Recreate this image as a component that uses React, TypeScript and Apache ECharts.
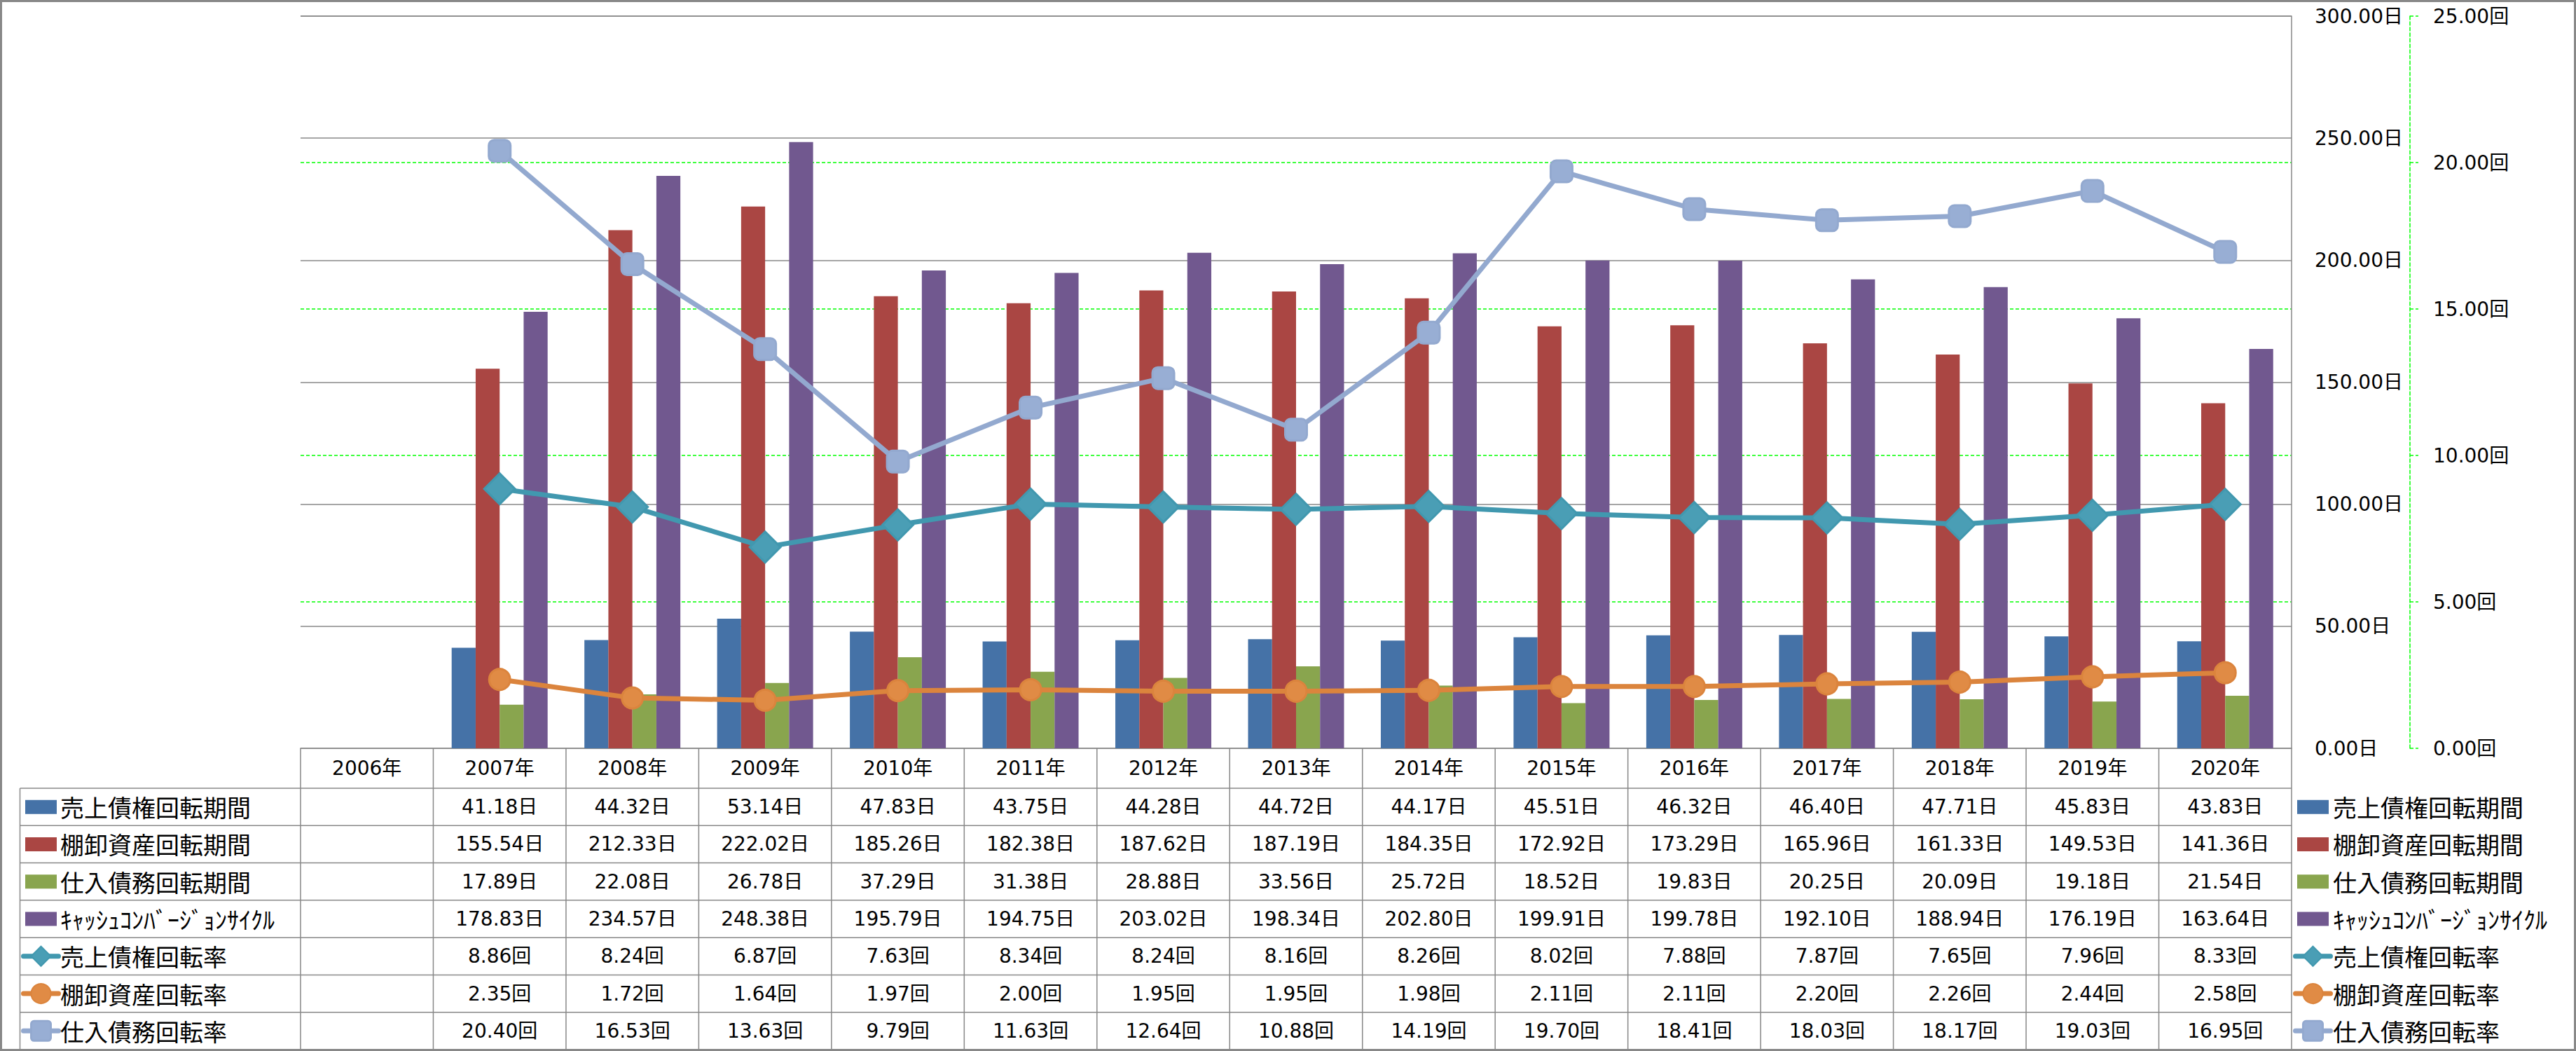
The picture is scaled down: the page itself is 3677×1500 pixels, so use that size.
import React, { useEffect, useRef } from "react";
import * as echarts from "echarts";

// ---------- data ----------
const years = [
  "2006年", "2007年", "2008年", "2009年", "2010年", "2011年", "2012年", "2013年",
  "2014年", "2015年", "2016年", "2017年", "2018年", "2019年", "2020年",
];
const receivableDays = [null, 41.18, 44.32, 53.14, 47.83, 43.75, 44.28, 44.72, 44.17, 45.51, 46.32, 46.40, 47.71, 45.83, 43.83];
const inventoryDays = [null, 155.54, 212.33, 222.02, 185.26, 182.38, 187.62, 187.19, 184.35, 172.92, 173.29, 165.96, 161.33, 149.53, 141.36];
const payableDays = [null, 17.89, 22.08, 26.78, 37.29, 31.38, 28.88, 33.56, 25.72, 18.52, 19.83, 20.25, 20.09, 19.18, 21.54];
const cashConversionCycle = [null, 178.83, 234.57, 248.38, 195.79, 194.75, 203.02, 198.34, 202.80, 199.91, 199.78, 192.10, 188.94, 176.19, 163.64];
const receivableTurnover = [null, 8.86, 8.24, 6.87, 7.63, 8.34, 8.24, 8.16, 8.26, 8.02, 7.88, 7.87, 7.65, 7.96, 8.33];
const inventoryTurnover = [null, 2.35, 1.72, 1.64, 1.97, 2.00, 1.95, 1.95, 1.98, 2.11, 2.11, 2.20, 2.26, 2.44, 2.58];
const payableTurnover = [null, 20.40, 16.53, 13.63, 9.79, 11.63, 12.64, 10.88, 14.19, 19.70, 18.41, 18.03, 18.17, 19.03, 16.95];

const seriesNames = [
  "売上債権回転期間",
  "棚卸資産回転期間",
  "仕入債務回転期間",
  "ｷｬｯｼｭｺﾝﾊﾞｰｼﾞｮﾝｻｲｸﾙ",
  "売上債権回転率",
  "棚卸資産回転率",
  "仕入債務回転率",
];
const seriesValues = [
  receivableDays, inventoryDays, payableDays, cashConversionCycle,
  receivableTurnover, inventoryTurnover, payableTurnover,
];
const seriesUnits = ["日", "日", "日", "日", "回", "回", "回"];

// axis ticks
const dayAxisMin = 0;
const dayAxisMax = 300;
const dayAxisStep = 50;
const turnAxisMin = 0;
const turnAxisMax = 25;
const turnAxisStep = 5;

// ---------- styles / layout ----------
const COLORS = ["#4572A7", "#AA4643", "#89A54E", "#71588F", "#4198AF", "#DB843D", "#93A9CF"];
const MARKER_FILL = ["", "", "", "", "#4A9EB5", "#E08B45", "#98AED4"];
const SYMBOLS = ["", "", "", "", "diamond", "circle", "roundRect"];
const SYMBOL_SIZES = [0, 0, 0, 0, 44, 30, 31];
const FONT_NUM = "'DejaVu Sans', 'Noto Sans CJK JP', sans-serif";
const FONT_JP = "'Noto Sans CJK JP', 'DejaVu Sans', sans-serif";
const GRAY = "#888888";
const GREEN = "#00FF00";

const W = 3677;
const H = 1500;
const PLOT_L = 429;
const PLOT_T = 23;
const PLOT_R = 3271;
const PLOT_B = 1068;
const TABLE_L = 28.5;
const TABLE_T = 1125;
const TABLE_B = 1498;
const ROW_H = (TABLE_B - TABLE_T) / 7;

function txt(x: number, y: number, s: string, size: number, family: string, align: string) {
  return {
    type: "text",
    x,
    y,
    silent: true,
    style: {
      text: s,
      fontSize: size,
      fontFamily: family,
      fill: "#000",
      align,
      verticalAlign: "middle",
      textAlign: align,
      textVerticalAlign: "middle",
    },
  };
}

function seg(x1: number, y1: number, x2: number, y2: number) {
  return {
    type: "line",
    silent: true,
    shape: { x1, y1, x2, y2 },
    style: { stroke: GRAY, lineWidth: 1.5 },
  };
}

function legendKey(idx: number, cx: number, cy: number) {
  const c = COLORS[idx];
  if (idx < 4) {
    return [
      { type: "rect", silent: true, shape: { x: cx - 22.5, y: cy - 10, width: 45, height: 20 }, style: { fill: c } },
    ];
  }
  const out: any[] = [
    {
      type: "line",
      silent: true,
      shape: { x1: cx - 25, y1: cy, x2: cx + 25, y2: cy },
      style: { stroke: c, lineWidth: 7, lineCap: "round" },
    },
  ];
  const r = 14;
  if (SYMBOLS[idx] === "diamond") {
    out.push({
      type: "polygon",
      silent: true,
      shape: { points: [[cx - r, cy], [cx, cy - r], [cx + r, cy], [cx, cy + r]] },
      style: { fill: MARKER_FILL[idx], stroke: c, lineWidth: 2 },
    });
  } else if (SYMBOLS[idx] === "circle") {
    out.push({
      type: "circle",
      silent: true,
      shape: { cx, cy, r },
      style: { fill: MARKER_FILL[idx], stroke: c, lineWidth: 2 },
    });
  } else {
    out.push({
      type: "rect",
      silent: true,
      shape: { x: cx - r, y: cy - r, width: 2 * r, height: 2 * r, r: 4 },
      style: { fill: MARKER_FILL[idx], stroke: c, lineWidth: 3 },
    });
  }
  return out;
}

function buildGraphic(centers: number[]) {
  const colW = centers[1] - centers[0];
  const els: any[] = [];
  // table grid
  for (let r = 0; r <= 7; r++) {
    const y = TABLE_T + r * ROW_H;
    els.push(seg(TABLE_L, y, PLOT_R, y));
  }
  els.push(seg(TABLE_L, TABLE_T, TABLE_L, TABLE_B));
  for (let k = 0; k <= years.length; k++) {
    const x = centers[0] - colW / 2 + k * colW;
    els.push(seg(x, PLOT_B, x, TABLE_B));
  }
  // cells + row headers + right legend
  seriesValues.forEach((vals, r) => {
    const cy = TABLE_T + (r + 0.5) * ROW_H;
    vals.forEach((v, i) => {
      if (v == null) return;
      els.push(txt(centers[i], cy, (v as number).toFixed(2) + seriesUnits[r], 28, FONT_NUM, "center"));
    });
    els.push(...legendKey(r, 58.5, cy));
    els.push(txt(86, cy, seriesNames[r], 34, FONT_JP, "left"));
    els.push(...legendKey(r, 3301.5, cy));
    els.push(txt(3330, cy, seriesNames[r], 34, FONT_JP, "left"));
  });
  // plot top line (primary max gridline drawn on top of the secondary one)
  els.push(seg(PLOT_L, PLOT_T, PLOT_R, PLOT_T));
  // outer border
  els.push({
    type: "rect",
    silent: true,
    shape: { x: 1.5, y: 1.5, width: W - 3, height: H - 3 },
    style: { fill: "none", stroke: GRAY, lineWidth: 3 },
  });
  return els;
}

function buildOption() {
  const series: any[] = seriesValues.map((vals, i) => {
    if (i < 4) {
      return {
        type: "bar",
        name: seriesNames[i],
        data: vals,
        yAxisIndex: 0,
        barGap: "0%",
        barCategoryGap: "27.7%",
        itemStyle: { color: COLORS[i] },
        z: 2,
      };
    }
    return {
      type: "line",
      name: seriesNames[i],
      data: vals,
      yAxisIndex: 1,
      symbol: SYMBOLS[i],
      symbolSize: SYMBOL_SIZES[i],
      showSymbol: true,
      lineStyle: { width: 7, color: COLORS[i] },
      itemStyle: { color: MARKER_FILL[i], borderColor: COLORS[i], borderWidth: 3 },
      z: 3 + i,
    };
  });

  return {
    animation: false,
    backgroundColor: "#ffffff",
    grid: { left: PLOT_L, top: PLOT_T, width: PLOT_R - PLOT_L, height: PLOT_B - PLOT_T, containLabel: false },
    xAxis: {
      type: "category",
      data: years,
      boundaryGap: true,
      axisLine: { show: true, lineStyle: { color: GRAY, width: 1.5 } },
      axisTick: { show: false },
      splitLine: { show: false },
      axisLabel: {
        interval: 0,
        margin: 28,
        verticalAlign: "middle",
        fontSize: 28,
        fontFamily: FONT_NUM,
        color: "#000",
      },
    },
    yAxis: [
      {
        type: "value",
        position: "right",
        min: dayAxisMin,
        max: dayAxisMax,
        interval: dayAxisStep,
        z: 1,
        axisLine: { show: true, lineStyle: { color: GRAY, width: 1.5 } },
        axisTick: { show: false },
        splitLine: { show: true, lineStyle: { color: GRAY, width: 1.5 } },
        axisLabel: {
          margin: 33,
          align: "left",
          fontSize: 28,
          fontFamily: FONT_NUM,
          color: "#000",
          formatter: (v: number) => v.toFixed(2) + "日",
        },
      },
      {
        type: "value",
        position: "right",
        offset: 169,
        min: turnAxisMin,
        max: turnAxisMax,
        interval: turnAxisStep,
        z: 0,
        axisLine: { show: true, lineStyle: { color: GREEN, width: 1.5, type: [5, 3] } },
        axisTick: { show: true, length: 12, lineStyle: { color: GREEN, width: 1.5, type: [5, 3] } },
        splitLine: {
          show: true,
          showMaxLine: false,
          showMinLine: false,
          lineStyle: { color: GREEN, width: 1.5, type: [5, 3] },
        },
        axisLabel: {
          margin: 33,
          align: "left",
          fontSize: 28,
          fontFamily: FONT_NUM,
          color: "#000",
          formatter: (v: number) => v.toFixed(2) + "回",
        },
      },
    ],
    series,
  };
}

export default function App() {
  const ref = useRef<HTMLDivElement>(null);
  useEffect(() => {
    document.body.style.margin = "0";
    document.body.style.overflow = "hidden";
    const chart = echarts.init(ref.current as HTMLDivElement, null, { renderer: "svg" });
    chart.setOption(buildOption() as any);
    const centers = years.map((_, i) => chart.convertToPixel({ xAxisIndex: 0 }, i) as number);
    chart.setOption({ graphic: buildGraphic(centers) } as any);
    return () => chart.dispose();
  }, []);
  return <div ref={ref} style={{ width: W, height: H }} />;
}
